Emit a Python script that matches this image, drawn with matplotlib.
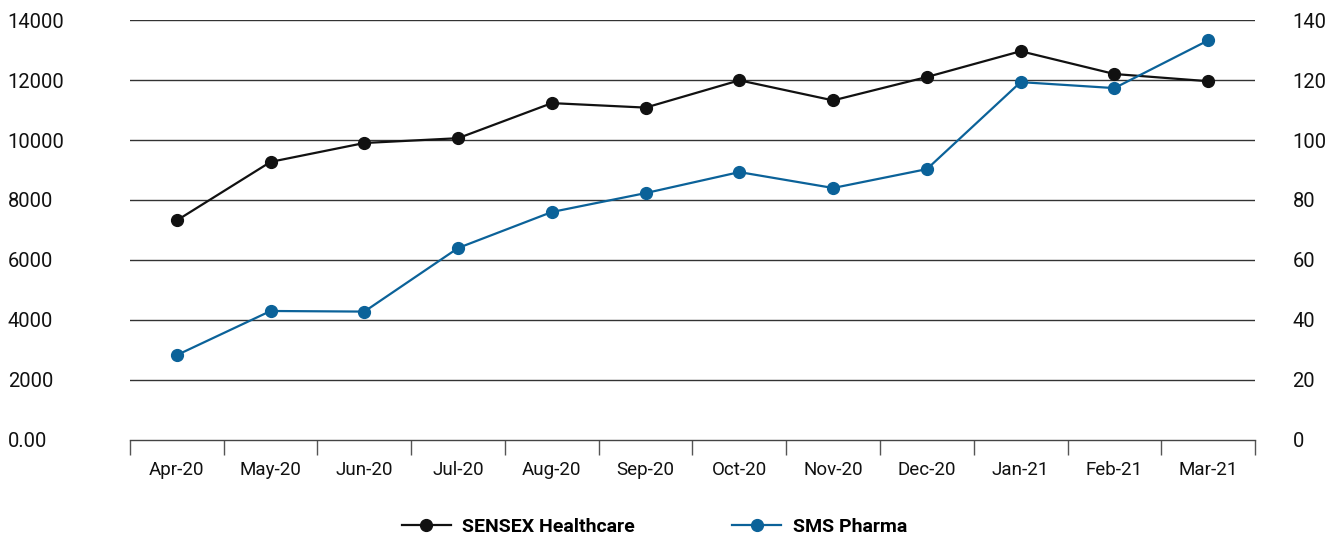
import numpy as np
import matplotlib.pyplot as plt

plt.rcParams['font.family'] = ['Roboto', 'DejaVu Sans']

months = ['Apr-20', 'May-20', 'Jun-20', 'Jul-20', 'Aug-20', 'Sep-20',
          'Oct-20', 'Nov-20', 'Dec-20', 'Jan-21', 'Feb-21', 'Mar-21']
sensex = [7320, 9270, 9900, 10060, 11230, 11080, 11990, 11320, 12100, 12960, 12200, 11960]
sms = [28.3, 43.0, 42.8, 64.0, 76.0, 82.3, 89.3, 84.0, 90.3, 119.3, 117.3, 133.2]
left_ticks = [0, 2000, 4000, 6000, 8000, 10000, 12000, 14000]
left_labels = ['0.00', '2000', '4000', '6000', '8000', '10000', '12000', '14000']
right_ticks = [0, 20, 40, 60, 80, 100, 120, 140]

black = '#111111'
blue = '#0b6299'

fig = plt.figure(figsize=(13.44, 5.38), dpi=100)
ax = fig.add_axes([0.0967, 0.1822, 0.8371, 0.7806])
ax2 = ax.twinx()

x = np.arange(len(months))
ax.set_xlim(-0.5, len(months) - 0.5)
ax.set_ylim(0, 14000)
ax2.set_ylim(0, 140)

for t in left_ticks[1:]:
    ax.axhline(t, color='#333333', lw=1.0, zorder=0)

l1, = ax.plot(x, sensex, color=black, lw=1.6, marker='o', ms=8.5, zorder=3,
              label='SENSEX Healthcare')
l2, = ax2.plot(x, sms, color=blue, lw=1.6, marker='o', ms=8.5, zorder=3,
               label='SMS Pharma')

for a in (ax, ax2):
    for s in ['top', 'left', 'right']:
        a.spines[s].set_visible(False)
ax2.spines['bottom'].set_visible(False)
ax.spines['bottom'].set_color('#444444')
ax.spines['bottom'].set_linewidth(1.0)

# left labels are left aligned near the figure edge
ax.set_yticks(left_ticks)
ax.set_yticklabels(left_labels, fontsize=14.5, color='#111111')
ax.tick_params(axis='y', length=0, pad=88)
for lab in ax.get_yticklabels():
    lab.set_horizontalalignment('left')

ax2.set_yticks(right_ticks)
ax2.set_yticklabels([str(t) for t in right_ticks], fontsize=14.5, color='#111111')
ax2.tick_params(axis='y', length=0, pad=27)

ax.set_xticks(x)
ax.set_xticklabels(months, fontsize=13.5, color='#111111')
ax.set_xticks(np.arange(-0.5, len(months) + 0.5, 1), minor=True)
ax.tick_params(axis='x', which='major', length=0, pad=15)
ax.tick_params(axis='x', which='minor', length=11, width=1.0, color='#555555')

fig.legend(handles=[l1, l2], loc='center', bbox_to_anchor=(0.487, 0.02),
           ncol=2, frameon=False, columnspacing=5, handlelength=2.5,
           handletextpad=0.6, prop={'weight': 'bold', 'size': 14})

fig.savefig('out.png', dpi=100)
